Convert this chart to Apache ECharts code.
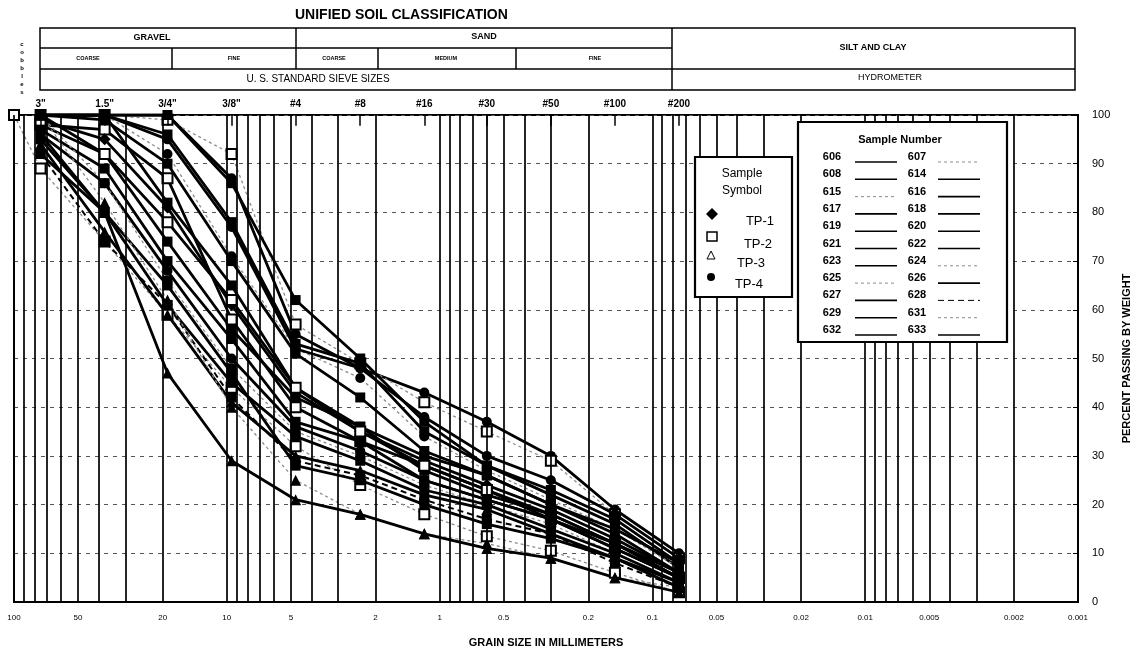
<!DOCTYPE html>
<html>
<head>
<meta charset="utf-8">
<script src="https://cdn.jsdelivr.net/npm/echarts@6/dist/echarts.min.js"></script>
<style>
html, body { margin: 0; padding: 0; background: #fff; }
#chart { width: 1137px; height: 649px; }
</style>
</head>
<body>
<div id="chart"></div>
<script>
// sieve openings in mm (first one is the 100 mm start point)
const sieveSizes = [100, 75, 37.5, 19, 9.5, 4.75, 2.36, 1.18, 0.6, 0.3, 0.15, 0.075]
const sieveNames = ['', '3"', '1.5"', '3/4"', '3/8"', '#4', '#8', '#16', '#30', '#50', '#100', '#200']
// labels under the grain size axis
const sizeLabels = [100, 50, 20, 10, 5, 2, 1, 0.5, 0.2, 0.1, 0.05, 0.02, 0.01, 0.005, 0.002, 0.001]

// percent passing for each sample, same order as sieveSizes (null = not tested)
const s606 = [null, 100, 100, 100, 87, 55, 48, 43, 37, 30, 19, 10]
const s607 = [null, 100, 100, 99, 92, 57, 49, 41, 35, 29, 18, 9]
const s608 = [null, 100, 100, 100, 86, 62, 50, 37, 28, 23, 17, 8]
const s614 = [null, 100, 100, 96, 78, 53, 49, 35, 28, 22, 16, 7]
const s615 = [null, 100, 100, 92, 71, 52, 46, 34, 27, 21, 15, 7]
const s616 = [null, 100, 99, 90, 70, 51, 42, 31, 26, 20, 14, 6]
const s617 = [null, 98, 97, 87, 58, 40, 33, 28, 23, 18, 12, 5]
const s618 = [null, 100, 100, 82, 65, 44, 36, 30, 26, 20, 15, 8]
const s619 = [null, 99, 95, 81, 61, 43, 35, 29, 24, 19, 13, 6]
const s620 = [null, 100, 92, 74, 56, 42, 36, 27, 22, 18, 12, 5]
const s621 = [null, 98, 92, 78, 62, 44, 35, 28, 23, 17, 11, 5]
const s622 = [null, 97, 89, 70, 54, 37, 33, 25, 21, 17, 11, 5]
const s623 = [null, 96, 86, 68, 50, 36, 31, 25, 21, 17, 12, 6]
const s624 = [null, 100, 86, 66, 48, 35, 30, 24, 20, 16, 10, 4]
const s625 = [100, 89, 74, 59, 44, 32, 24, 18, 13.5, 10.5, 6, 2]
const s626 = [null, 95, 80, 61, 45, 34, 29, 23, 20, 15, 10, 4]
const s627 = [null, 94, 76, 59, 41, 30, 27, 22, 19, 14, 9, 4]
const s628 = [null, 92, 74, 61, 42, 29, 26, 21, 17, 14, 8, 3]
const s629 = [null, 92, 80, 65, 47, 28, 25, 20, 16, 13, 9, 3]
const s631 = [null, 100, 82, 62, 40, 25, 18, 14, 12, 9, 5, 3]
const s632 = [null, 96, 80, 47, 29, 21, 18, 14, 11, 9, 5, 2]
const s633 = [null, 100, 100, 95, 77, 52, 48, 38, 30, 25, 18, 9]

const samples = [
  ['606', s606], ['607', s607], ['608', s608], ['614', s614], ['615', s615], ['616', s616],
  ['617', s617], ['618', s618], ['619', s619], ['620', s620], ['621', s621], ['622', s622],
  ['623', s623], ['624', s624], ['625', s625], ['626', s626], ['627', s627], ['628', s628],
  ['629', s629], ['631', s631], ['632', s632], ['633', s633],
]

// marker per sample (test pit symbols)
const symbolOf = {
  606: 'circle', 607: 'emptyRect', 608: 'rect', 614: 'rect', 615: 'circle', 616: 'rect',
  617: 'emptyRect', 618: 'rect', 619: 'diamond', 620: 'rect', 621: 'emptyRect', 622: 'rect',
  623: 'circle', 624: 'rect', 625: 'emptyRect', 626: 'rect', 627: 'triangle', 628: 'rect',
  629: 'rect', 631: 'triangle', 632: 'triangle', 633: 'circle',
}
// samples drawn with a light dotted line
const faint = ['607', '615', '624', '625', '631']
const dashed = ['628']

const FONT = 'Liberation Sans, Arial, sans-serif'

function lineStyleOf(name) {
  if (faint.includes(name)) return { color: '#8c8c8c', width: 1.3, type: [3, 3] }
  if (dashed.includes(name)) return { color: '#000', width: 2, type: [6, 4] }
  return { color: '#000', width: 2.8, type: 'solid' }
}

// log grid lines 1..9 x 10^n
let gridValues = []
for (let d = -3; d <= 1; d++) {
  for (let k = 1; k <= 9; k++) gridValues.push(Number((k * Math.pow(10, d)).toPrecision(2)))
}
gridValues.push(100)

let myChart = echarts.init(document.getElementById('chart'))

let series = []

// vertical grid lines + size labels
series.push({
  type: 'line',
  name: 'grid',
  data: [],
  z: 1,
  silent: true,
  markLine: {
    silent: true,
    animation: false,
    precision: 6,
    symbol: ['none', 'none'],
    lineStyle: { color: '#000', width: 1.7, type: 'solid', opacity: 1 },
    label: { show: false },
    data: gridValues.map((v) => ({
      xAxis: v,
      name: String(v),
      label: sizeLabels.includes(v)
        ? { show: true, position: 'start', formatter: '{b}', distance: 12, fontSize: 8, fontFamily: FONT, color: '#000' }
        : { show: false },
    })),
  },
})

// sieve ticks and names on top
series.push({
  type: 'line',
  name: 'sieves',
  data: [],
  z: 2,
  silent: true,
  markLine: {
    silent: true,
    animation: false,
    precision: 6,
    symbol: ['none', 'none'],
    lineStyle: { color: '#000', width: 1.5, type: 'solid' },
    label: { show: true, position: 'end', formatter: '{b}', distance: 6, fontSize: 10, fontWeight: 'bold', fontFamily: FONT, color: '#000' },
    data: sieveSizes.slice(1).map((s, i) => [
      { coord: [s, 97.8], name: sieveNames[i + 1] },
      { coord: [s, 100] },
    ]),
  },
})

samples.forEach(([name, vals]) => {
  let sym = symbolOf[name]
  series.push({
    type: 'line',
    name: name,
    z: 3,
    data: sieveSizes.map((s, j) => [s, vals[j]]).filter((p) => p[1] !== null),
    symbol: sym,
    symbolSize: sym === 'triangle' ? 11 : sym === 'diamond' ? 12 : 10,
    showSymbol: true,
    lineStyle: lineStyleOf(name),
    itemStyle: { color: '#000', borderColor: '#000', borderWidth: sym.startsWith('empty') ? 2 : 0 },
    emphasis: { disabled: true },
  })
})

// ---- decorations: classification table and the two legend boxes ----
let graphic = []
function txt(x, y, text, size, bold, align) {
  graphic.push({
    type: 'text', x: x, y: y, z: 100,
    style: { text: text, font: (bold ? 'bold ' : '') + size + 'px ' + FONT, fill: '#000', textAlign: align || 'center', textVerticalAlign: 'middle' },
  })
}
function ln(x1, y1, x2, y2, w, stroke, dash) {
  graphic.push({
    type: 'line', z: 100,
    shape: { x1: x1, y1: y1, x2: x2, y2: y2 },
    style: { stroke: stroke || '#000', lineWidth: w || 1.5, lineDash: dash || null },
  })
}
function box(x, y, w, h, lw) {
  graphic.push({
    type: 'rect', z: 99,
    shape: { x: x, y: y, width: w, height: h },
    style: { fill: '#fff', stroke: '#000', lineWidth: lw || 2 },
  })
}

// header table
box(40, 28, 1035, 62, 1.5)
ln(40, 48, 672, 48)
ln(40, 69, 1075, 69)
ln(296, 28, 296, 69)
ln(672, 28, 672, 90)
ln(172, 48, 172, 69)
ln(378, 48, 378, 69)
ln(516, 48, 516, 69)
txt(152, 38, 'GRAVEL', 9, true)
txt(484, 37, 'SAND', 9, true)
txt(873, 48, 'SILT AND CLAY', 9, true)
txt(88, 58, 'COARSE', 5.5, true)
txt(234, 58, 'FINE', 5.5, true)
txt(334, 58, 'COARSE', 5.5, true)
txt(446, 58, 'MEDIUM', 5.5, true)
txt(595, 58, 'FINE', 5.5, true)
txt(318, 79, 'U. S. STANDARD SIEVE SIZES', 10, false)
txt(890, 78, 'HYDROMETER', 9, false)
graphic.push({
  type: 'text', x: 22, y: 40, z: 100,
  style: { text: 'c\no\nb\nb\nl\ne\ns', font: 'bold 6px ' + FONT, fill: '#000', textAlign: 'center', lineHeight: 8 },
})

// legend: sample symbol
box(695, 157, 97, 140, 2.2)
txt(742, 174, 'Sample', 12, false)
txt(742, 191, 'Symbol', 12, false)
graphic.push({ type: 'polygon', z: 101, shape: { points: [[712, 208], [718, 214], [712, 220], [706, 214]] }, style: { fill: '#000' } })
txt(760, 221, 'TP-1', 13, false)
graphic.push({ type: 'rect', z: 101, shape: { x: 707, y: 232, width: 10, height: 9 }, style: { fill: '#fff', stroke: '#000', lineWidth: 1.5 } })
txt(758, 244, 'TP-2', 13, false)
graphic.push({ type: 'polygon', z: 101, shape: { points: [[711, 251], [715, 259], [707, 259]] }, style: { fill: 'none', stroke: '#000', lineWidth: 1 } })
txt(751, 263, 'TP-3', 13, false)
graphic.push({ type: 'circle', z: 101, shape: { cx: 711, cy: 277, r: 4 }, style: { fill: '#000' } })
txt(749, 284, 'TP-4', 13, false)

// legend: sample number
box(798, 122, 209, 220, 2.2)
txt(900, 140, 'Sample Number', 11, true)
const leftCol = ['606', '608', '615', '617', '619', '621', '623', '625', '627', '629', '632']
const rightCol = ['607', '614', '616', '618', '620', '622', '624', '626', '628', '631', '633']
function legendLine(x1, x2, y, name) {
  let st = lineStyleOf(name)
  let dash = Array.isArray(st.type) ? st.type : null
  ln(x1, y, x2, y, st.width > 2 ? 1.6 : 1, st.color, dash)
}
leftCol.forEach((n, i) => {
  let y = 157 + i * 17.3
  txt(832, y, n, 11, true)
  legendLine(855, 897, y + 5, n)
  txt(917, y, rightCol[i], 11, true)
  legendLine(938, 980, y + 5, rightCol[i])
})

myChart.setOption({
  animation: false,
  title: {
    text: 'UNIFIED SOIL CLASSIFICATION',
    left: 290,
    top: 3,
    textStyle: { color: '#000', fontWeight: 'bold', fontFamily: FONT, fontSize: 14 },
  },
  grid: {
    left: 14,
    right: 59,
    top: 115,
    bottom: 47,
    outerBoundsMode: 'none',
    containLabel: false,
    show: true,
    borderColor: '#000',
    borderWidth: 2,
  },
  xAxis: {
    type: 'log',
    logBase: 10,
    min: 0.001,
    max: 100,
    inverse: true,
    name: 'GRAIN SIZE IN MILLIMETERS',
    nameLocation: 'middle',
    nameGap: 35,
    nameTextStyle: { color: '#000', fontWeight: 'bold', fontSize: 11, fontFamily: FONT },
    axisLine: { show: true, lineStyle: { color: '#000', width: 2 } },
    axisTick: { show: false },
    axisLabel: { show: false },
    splitLine: { show: false },
  },
  yAxis: {
    type: 'value',
    position: 'right',
    min: 0,
    max: 100,
    interval: 10,
    name: 'PERCENT PASSING BY WEIGHT',
    nameLocation: 'middle',
    nameRotate: 90,
    nameGap: 43,
    nameTextStyle: { color: '#000', fontWeight: 'bold', fontSize: 11, fontFamily: FONT },
    axisLine: { show: true, lineStyle: { color: '#000', width: 2 } },
    axisTick: { show: true, inside: true, length: 5, lineStyle: { color: '#000' } },
    axisLabel: { color: '#000', fontSize: 11, margin: 14, fontFamily: FONT },
    splitLine: { show: true, lineStyle: { color: '#555', width: 1, type: [4, 5] } },
  },
  graphic: graphic,
  series: series,
})
</script>
</body>
</html>
